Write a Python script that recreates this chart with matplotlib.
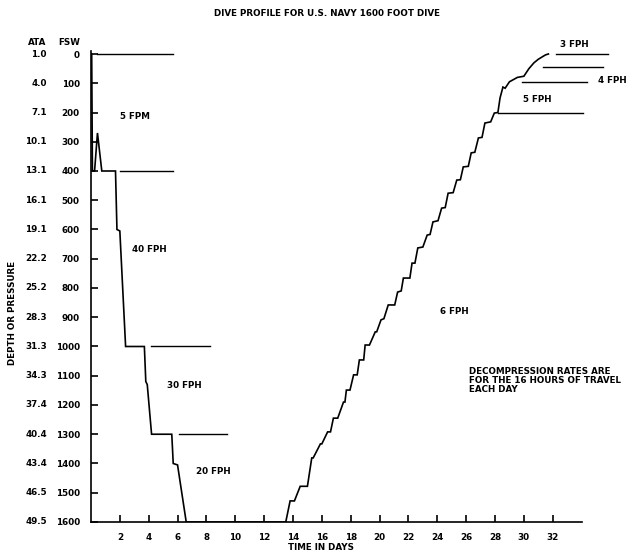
import matplotlib
matplotlib.use("Agg")
import matplotlib.pyplot as plt
import matplotlib.transforms as mtransforms

# ---- data ----
fsw_ticks = list(range(0, 1700, 100))
ata_labels = ["1.0", "4.0", "7.1", "10.1", "13.1", "16.1", "19.1", "22.2", "25.2",
              "28.3", "31.3", "34.3", "37.4", "40.4", "43.4", "46.5", "49.5"]
day_ticks = list(range(2, 34, 2))

# dive profile (time in days, depth in fsw)
time_days = [0.05, 0.1, 0.25, 0.45, 0.75, 1.7, 1.8, 2.0, 2.4, 3.7, 3.8, 3.9, 4.2, 5.6, 5.7,
             6.0, 6.6, 13.5,
             13.8, 14.1, 14.5, 15.0, 15.3, 15.4, 15.9, 16.0, 16.4, 16.6, 16.8, 17.1, 17.5,
             17.6, 17.7, 17.95, 18.2, 18.45, 18.6, 18.9, 19.0, 19.3, 19.7, 19.8, 20.1, 20.3,
             20.6, 21.05, 21.25, 21.5, 21.65, 22.1, 22.25, 22.45, 22.65, 23.0, 23.3, 23.5,
             23.7, 24.05, 24.3, 24.55, 24.75, 25.1, 25.35, 25.6, 25.8, 26.15, 26.35, 26.6,
             26.85, 27.1, 27.3, 27.7, 27.95, 28.2,
             28.35, 28.55, 28.7, 29.0, 29.55, 30.0, 30.35, 30.7, 31.0, 31.5, 31.7]
depth_fsw = [0, 400, 400, 270, 400, 400, 600, 605, 1000, 1000, 1120, 1130, 1300, 1300, 1400,
             1405, 1600, 1600,
             1528, 1528, 1478, 1478, 1381, 1381, 1333, 1333, 1292, 1292, 1245, 1245, 1190,
             1190, 1149, 1149, 1097, 1097, 1046, 1046, 995, 995, 950, 950, 909, 905,
             858, 858, 814, 810, 766, 766, 715, 715, 663, 660, 619, 617,
             574, 570, 527, 525, 476, 474, 431, 430, 386, 384, 338, 336,
             287, 285, 236, 232, 202, 200,
             150, 113, 117, 95, 80, 76, 50, 30, 18, 3, 0]

# rate boundary lines: (depth, start day, end day)
rate_depth = [0, 400, 1000, 1300, 200, 96, 45, 0]
rate_start = [0.45, 2.0, 4.16, 6.1, 28.2, 29.9, 31.3, 32.2]
rate_end = [5.7, 5.7, 8.25, 9.4, 34.1, 34.4, 35.5, 35.8]

# rate labels: (text, day, depth)
rate_text = ["5 FPM", "40 FPH", "30 FPH", "20 FPH", "6 FPH", "5 FPH", "4 FPH", "3 FPH"]
rate_day = [3.05, 4.05, 6.45, 8.5, 25.2, 30.9, 36.1, 33.5]
rate_dep = [215, 670, 1132, 1429, 882, 157, 89, -31]

note_lines = ["DECOMPRESSION RATES ARE", "FOR THE 16 HOURS OF TRAVEL", "EACH DAY"]

# ---- figure ----
plt.rcParams["font.family"] = ["DejaVu Sans"]
plt.rcParams["font.weight"] = "bold"
FS = 6.3

fig = plt.figure(figsize=(6.42, 5.54), dpi=100)
ax = fig.add_axes([0.1417, 0.0578, 0.7642, 0.85])
ax.set_xlim(0, 34)
ax.set_ylim(1600, -10)

ax.plot(time_days, depth_fsw, color="black", lw=1.2, solid_joinstyle="miter", zorder=3)
for d, s, e in zip(rate_depth, rate_start, rate_end):
    ax.plot([s, e], [d, d], color="black", lw=1.0, clip_on=False)
for t, x, y in zip(rate_text, rate_day, rate_dep):
    ax.text(x, y, t, ha="center", va="center", fontsize=FS, fontweight="bold", clip_on=False)
for k, line in enumerate(note_lines):
    ax.text(26.2, 1084 + k * 31, line, ha="left", va="center", fontsize=FS, fontweight="bold")

for s in ["top", "right"]:
    ax.spines[s].set_visible(False)
for s in ["left", "bottom"]:
    ax.spines[s].set_linewidth(1.2)

ax.set_xticks(day_ticks)
ax.set_xticklabels([str(d) for d in day_ticks], fontsize=FS, fontweight="bold")
ax.set_yticks(fsw_ticks)
ax.set_yticklabels([str(v) for v in fsw_ticks], fontsize=FS, fontweight="bold")
ax.tick_params(axis="x", direction="in", length=5, width=1.2, pad=8)
ax.tick_params(axis="y", direction="in", length=5, width=1.2, pad=8)

# ATA column
trans = mtransforms.blended_transform_factory(ax.transAxes, ax.transData)
for v, a in zip(fsw_ticks, ata_labels):
    ax.text(-0.09, v, a, transform=trans, ha="right", va="center", fontsize=FS, fontweight="bold")
ax.text(-0.09, -38, "ATA", transform=trans, ha="right", va="center", fontsize=FS, fontweight="bold")
ax.text(-0.022, -38, "FSW", transform=trans, ha="right", va="center", fontsize=FS, fontweight="bold")

fig.text(0.51, 0.975, "DIVE PROFILE FOR U.S. NAVY 1600 FOOT DIVE", ha="center", va="center",
         fontsize=FS, fontweight="bold")
fig.text(0.5, 0.011, "TIME IN DAYS", ha="center", va="center", fontsize=FS, fontweight="bold")
fig.text(0.02, 0.435, "DEPTH OR PRESSURE", rotation=90, ha="center", va="center",
         fontsize=FS, fontweight="bold")

fig.savefig("out.png", dpi=100)
